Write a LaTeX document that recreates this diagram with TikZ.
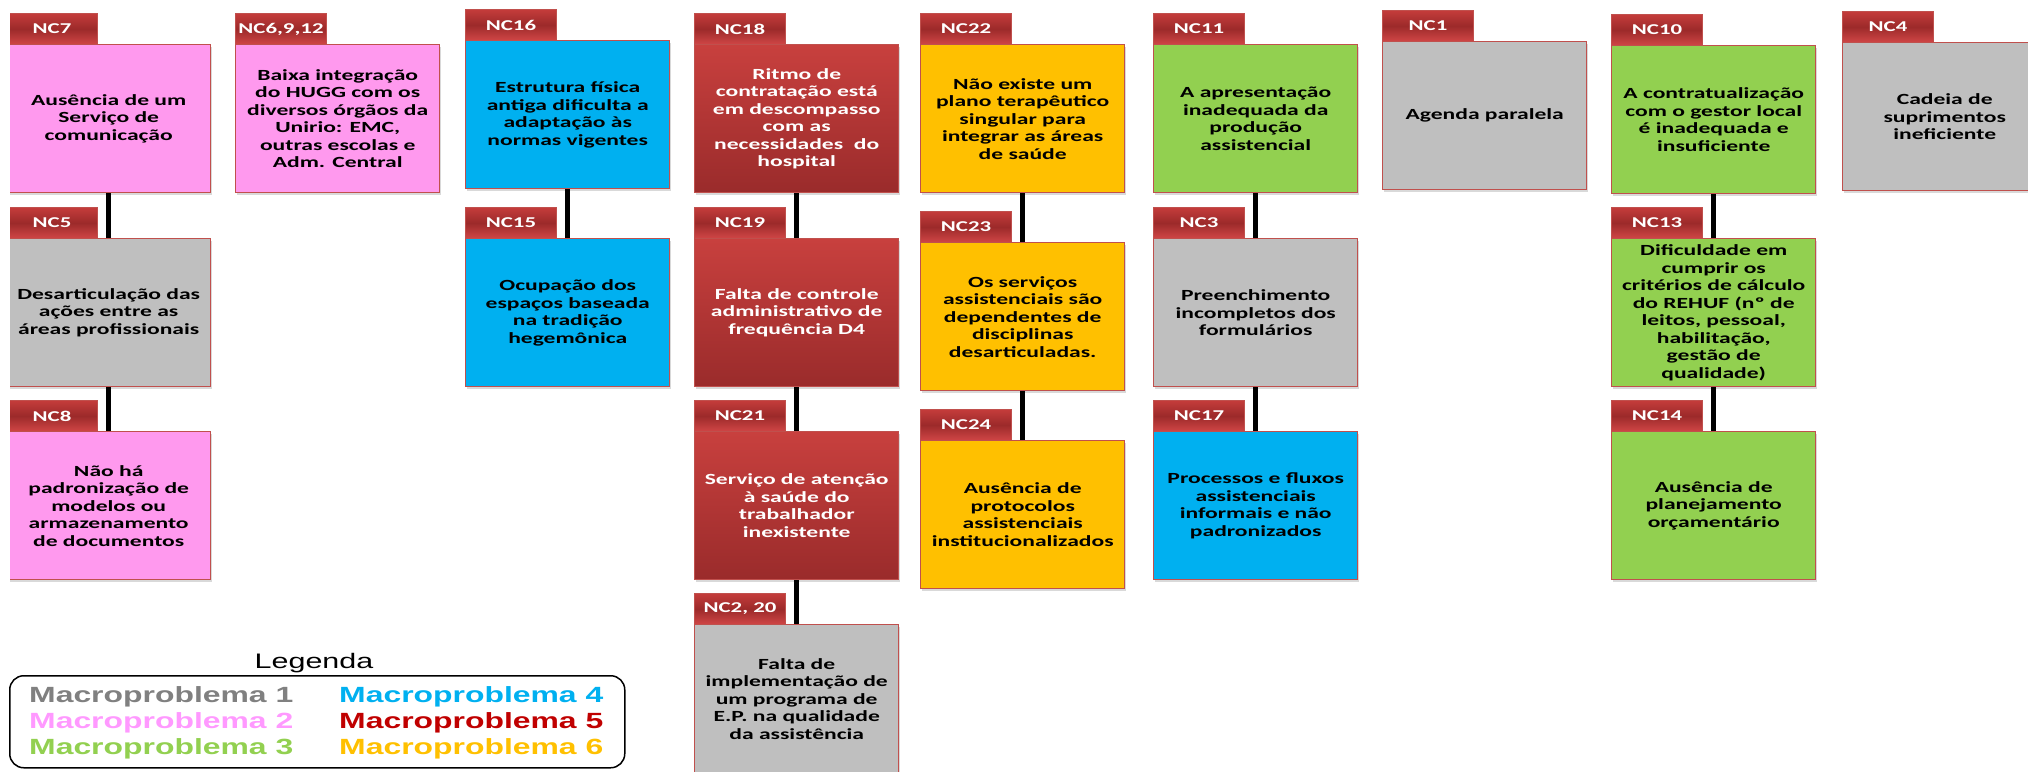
\documentclass[tikz,border=0pt]{standalone}
\usepackage{fontspec}
\usetikzlibrary{shadows}
\newfontfamily\boxfont[FakeStretch=1.52]{Carlito}
\newfontfamily\legfont[FakeStretch=1.45]{Liberation Sans}
\definecolor{pinkfill}{HTML}{FF99EE}
\definecolor{bluefill}{HTML}{00B0F0}
\definecolor{greenfill}{HTML}{92D050}
\definecolor{orangefill}{HTML}{FFC000}
\definecolor{grayfill}{HTML}{BFBFBF}
\definecolor{redtop}{HTML}{C8403E}
\definecolor{redbot}{HTML}{9A2B2B}
\definecolor{bordercol}{HTML}{C0504D}
\definecolor{tabtop}{HTML}{C43C3B}
\definecolor{tabmid}{HTML}{9C2A2A}
\definecolor{tabbot}{HTML}{D04646}
\definecolor{mpgray}{HTML}{808080}
\definecolor{mppink}{HTML}{FF99FF}
\definecolor{mpgreen}{HTML}{92D050}
\definecolor{mpblue}{HTML}{00B0F0}
\definecolor{mpred}{HTML}{C00000}
\definecolor{mporange}{HTML}{FFC000}
\tikzset{
  boxstyle/.style={draw=bordercol, line width=1.4pt, minimum width=204pt, minimum height=148pt,
    inner sep=2pt, align=center, text=black,
    font=\boxfont\bfseries\fontsize{15.5}{17.5}\selectfont,
    drop shadow={shadow xshift=1.5pt, shadow yshift=-2.5pt, opacity=0.3}},
  tabstyle/.style={draw=bordercol, line width=1pt, minimum width=91pt, minimum height=31pt,
    inner sep=0pt, text=white, top color=tabtop, bottom color=tabbot, middle color=tabmid,
    font=\boxfont\bfseries\fontsize{15}{17}\selectfont},
  mpink/.style={fill=pinkfill},
  mblue/.style={fill=bluefill},
  mgreen/.style={fill=greenfill},
  morange/.style={fill=orangefill},
  mgray/.style={fill=grayfill},
  mred/.style={top color=redtop, bottom color=redbot, text=white},
  conn/.style={line width=5pt, black},
  legitem/.style={anchor=base west, inner sep=0pt, font=\legfont\bfseries\fontsize{22}{24}\selectfont},
}
\newcommand\NCbox[6]{%
  \node[tabstyle, anchor=north west] (#1tab) at (#2,#3) {#5};
  \node[boxstyle, #4, anchor=north west] (#1) at (#2,#3+31) {#6};
}
\begin{document}
\begin{tikzpicture}[x=1pt,y=-1pt]
\useasboundingbox (0,0) rectangle (2028,771);
\begin{scope}
\clip (10,0) rectangle (2028,771);
% column 1
\NCbox{nc7}{6}{13}{mpink}{NC7}{Ausência de um\\Serviço de\\comunicação}
\NCbox{nc5}{6}{207}{mgray}{NC5}{Desarticulação das\\ações entre as\\áreas profissionais}
\NCbox{nc8}{6}{400}{mpink}{NC8}{Não há\\padronização de\\modelos ou\\armazenamento\\de documentos}
% column 2
\NCbox{nc6}{235}{13}{mpink}{NC6,9,12}{Baixa integração\\do HUGG com os\\diversos órgãos da\\Unirio: EMC,\\outras escolas e\\Adm. Central}
% column 3
\NCbox{nc16}{465}{9}{mblue}{NC16}{Estrutura física\\antiga dificulta a\\adaptação às\\normas vigentes}
\NCbox{nc15}{465}{207}{mblue}{NC15}{Ocupação dos\\espaços baseada\\na tradição\\hegemônica}
% column 4
\NCbox{nc18}{694}{13}{mred}{NC18}{Ritmo de\\contratação está\\em descompasso\\com as\\necessidades~ do\\hospital}
\NCbox{nc19}{694}{207}{mred}{NC19}{Falta de controle\\administrativo de\\frequência D4}
\NCbox{nc21}{694}{400}{mred}{NC21}{Serviço de atenção\\à saúde do\\trabalhador\\inexistente}
\NCbox{nc2}{694}{593}{mgray}{NC2, 20}{Falta de\\implementação de\\um programa de\\E.P. na qualidade\\da assistência}
% column 5
\NCbox{nc22}{920}{13}{morange}{NC22}{Não existe um\\plano terapêutico\\singular para\\integrar as áreas\\de saúde}
\NCbox{nc23}{920}{211}{morange}{NC23}{Os serviços\\assistenciais são\\dependentes de\\disciplinas\\desarticuladas.}
\NCbox{nc24}{920}{409}{morange}{NC24}{Ausência de\\protocolos\\assistenciais\\institucionalizados}
% column 6
\NCbox{nc11}{1153}{13}{mgreen}{NC11}{A apresentação\\inadequada da\\produção\\assistencial}
\NCbox{nc3}{1153}{207}{mgray}{NC3}{Preenchimento\\incompletos dos\\formulários}
\NCbox{nc17}{1153}{400}{mblue}{NC17}{Processos e fluxos\\assistenciais\\informais e não\\padronizados}
% column 7
\NCbox{nc1}{1382}{10}{mgray}{NC1}{Agenda paralela}
% column 8
\NCbox{nc10}{1611}{14}{mgreen}{NC10}{A contratualização\\com o gestor local\\é inadequada e\\insuficiente}
\NCbox{nc13}{1611}{207}{mgreen}{NC13}{Dificuldade em\\cumprir os\\critérios de cálculo\\do REHUF (nº de\\leitos, pessoal,\\habilitação,\\gestão de\\qualidade)}
\NCbox{nc14}{1611}{400}{mgreen}{NC14}{Ausência de\\planejamento\\orçamentário}
% column 9
\NCbox{nc4}{1842}{11}{mgray}{NC4}{Cadeia de\\suprimentos\\ineficiente}
% connectors
\draw[conn] (nc7.south) -- (nc5.north);
\draw[conn] (nc5.south) -- (nc8.north);
\draw[conn] (nc16.south) -- (nc15.north);
\draw[conn] (nc18.south) -- (nc19.north);
\draw[conn] (nc19.south) -- (nc21.north);
\draw[conn] (nc21.south) -- (nc2.north);
\draw[conn] (nc22.south) -- (nc23.north);
\draw[conn] (nc23.south) -- (nc24.north);
\draw[conn] (nc11.south) -- (nc3.north);
\draw[conn] (nc3.south) -- (nc17.north);
\draw[conn] (nc10.south) -- (nc13.north);
\draw[conn] (nc13.south) -- (nc14.north);
\end{scope}
% legend
\node[anchor=base, inner sep=0pt, font=\legfont\fontsize{21}{23}\selectfont] (legtitle) at (314,668) {Legenda};
\node[draw, line width=1.5pt, rounded corners=14pt, minimum width=615pt, minimum height=92pt, anchor=north west] (legbox) at (9,675) {};
\node[legitem, text=mpgray] (m1) at (29,702) {Macroproblema 1};
\node[legitem, text=mppink] (m2) at (29,728) {Macroproblema 2};
\node[legitem, text=mpgreen] (m3) at (29,754) {Macroproblema 3};
\node[legitem, text=mpblue] (m4) at (339,702) {Macroproblema 4};
\node[legitem, text=mpred] (m5) at (339,728) {Macroproblema 5};
\node[legitem, text=mporange] (m6) at (339,754) {Macroproblema 6};
\end{tikzpicture}
\end{document}
